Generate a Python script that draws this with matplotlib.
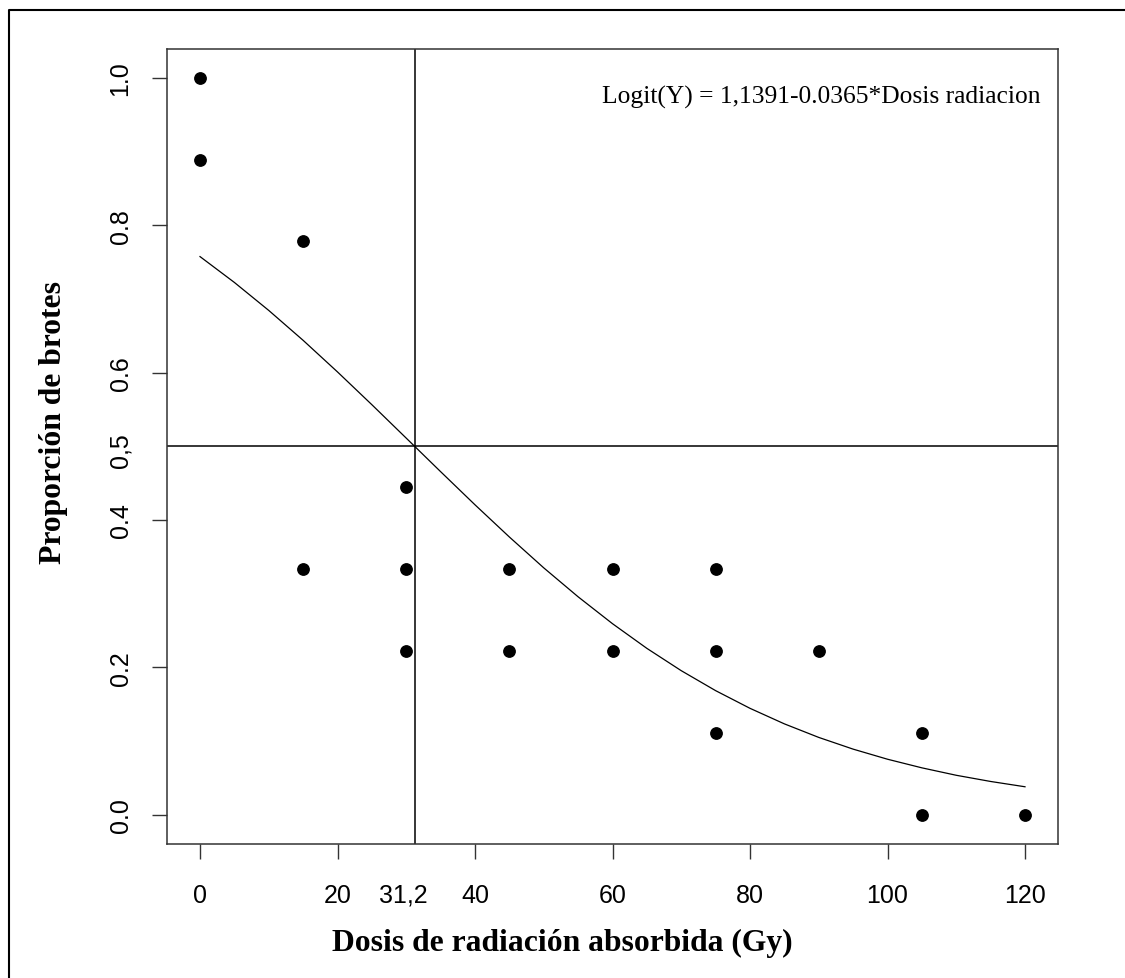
import matplotlib
matplotlib.use("Agg")
import matplotlib.pyplot as plt
from matplotlib.lines import Line2D

# Observed proportions
dose = [0, 0, 15, 15, 30, 30, 30, 45, 45, 60, 60, 75, 75, 75, 90, 105, 105, 120]
prop = [1.0, 0.889, 0.778, 0.333, 0.444, 0.333, 0.222, 0.333, 0.222, 0.333, 0.222,
        0.333, 0.222, 0.111, 0.222, 0.111, 0.0, 0.0]

# Fitted curve
curve_x = [0, 5, 10, 15, 20, 25, 30, 35, 40, 45, 50, 55, 60, 65, 70, 75, 80, 85,
           90, 95, 100, 105, 110, 115, 120]
curve_y = [0.7575, 0.7224, 0.6844, 0.6438, 0.6009, 0.5564, 0.5110, 0.4655, 0.4205,
           0.3768, 0.3349, 0.2956, 0.2591, 0.2256, 0.1953, 0.1682, 0.1442, 0.1231,
           0.1047, 0.0888, 0.0751, 0.0634, 0.0533, 0.0449, 0.0377]

x_ticks = [0, 20, 40, 60, 80, 100, 120]
x_ticklabels = ["0", "20", "40", "60", "80", "100", "120"]
y_ticks = [0.0, 0.2, 0.4, 0.6, 0.8, 1.0]
y_ticklabels = ["0.0", "0.2", "0.4", "0.6", "0.8", "1.0"]
ld50 = 31.2
ld50_label = "31,2"
half = 0.5
half_label = "0,5"
equation = "Logit(Y) = 1,1391-0.0365*Dosis radiacion"
xlabel = "Dosis de radiación absorbida (Gy)"
ylabel = "Proporción de brotes"

W, H = 1125, 979
fig = plt.figure(figsize=(W / 100, H / 100), dpi=100)
ax = fig.add_axes([167 / W, 1 - 845 / H, (1058 - 167) / W, (845 - 49.5) / H])

sans = "Liberation Sans"
serif = "Liberation Serif"
tick_fs = 18
tick_len = 10.8
xpad, ypad = 17, 14

ax.plot(dose, prop, "o", color="black", markersize=8.2, zorder=3)
ax.plot(curve_x, curve_y, color="black", linewidth=0.9)
ax.axvline(ld50, color="black", linewidth=1.1)
ax.axhline(half, color="black", linewidth=1.1)

ax.set_xlim(-4.8, 124.8)
ax.set_ylim(-0.04, 1.04)

ax.set_xticks(x_ticks)
ax.set_xticklabels(x_ticklabels, fontfamily=sans, fontsize=tick_fs)
ax.set_yticks(y_ticks)
ax.set_yticklabels(y_ticklabels, fontfamily=sans, fontsize=tick_fs, rotation=90, va="center")
# labels without tick marks (placed slightly left/below like the original)
ax.set_xticks([ld50 - 1.6], minor=True)
ax.set_xticklabels([ld50_label], minor=True, fontfamily=sans, fontsize=tick_fs)
ax.set_yticks([half - 0.005], minor=True)
ax.set_yticklabels([half_label], minor=True, fontfamily=sans, fontsize=tick_fs,
                   rotation=90, va="center")

ax.tick_params(axis="both", which="major", length=tick_len, width=1.0,
               color="#333333", direction="out")
ax.tick_params(axis="x", which="major", pad=xpad)
ax.tick_params(axis="y", which="major", pad=ypad)
ax.tick_params(axis="x", which="minor", length=0, pad=xpad + tick_len)
ax.tick_params(axis="y", which="minor", length=0, pad=ypad + tick_len)
for s in ax.spines.values():
    s.set_linewidth(1.1)
    s.set_color("#333333")

fig.text(1040 / W, 1 - 97 / H, equation, ha="right", va="center",
         fontfamily=serif, fontsize=18.4)

fig.text(562 / W, 1 - 943 / H, xlabel, ha="center", va="center",
         fontfamily=serif, fontweight="bold", fontsize=22.8)
fig.text(53 / W, 1 - 422 / H, ylabel, ha="center", va="center", rotation=90,
         fontfamily=serif, fontweight="bold", fontsize=22.8)

# outer frame (left and top edges)
fig.add_artist(Line2D([8.5 / W, 8.5 / W, 1.0], [0.0, 1 - 11 / H, 1 - 11 / H],
                      transform=fig.transFigure, color="black", linewidth=1.5))

fig.savefig("out.png", dpi=100)
